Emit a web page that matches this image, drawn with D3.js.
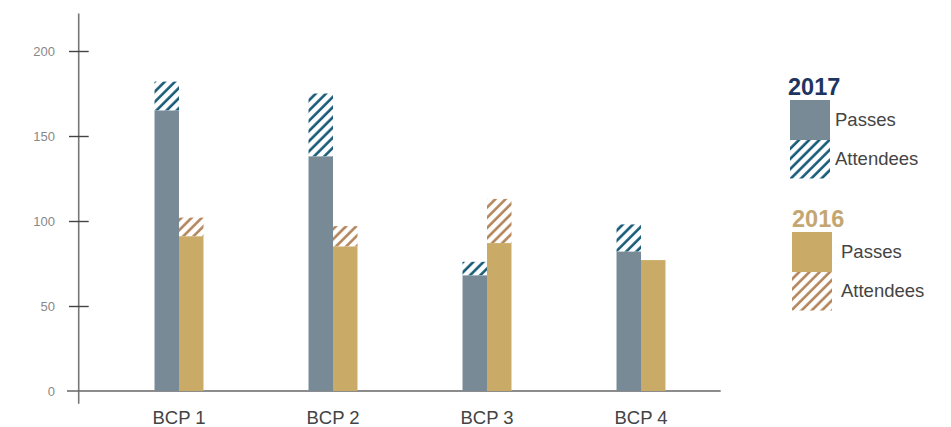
<!DOCTYPE html>
<html><head><meta charset="utf-8">
<script src="https://cdn.jsdelivr.net/npm/d3@7"></script>
<style>body{margin:0;background:#fff}svg{display:block}text{font-family:"Liberation Sans",Arial,sans-serif}</style>
</head><body><svg id="c" width="951" height="427"></svg>
<script>
const categories = ["BCP 1","BCP 2","BCP 3","BCP 4"];
const passes2017 = [165, 138, 68, 82];
const attendees2017 = [182, 175, 76, 98];
const passes2016 = [91, 85, 87, 77];
const attendees2016 = [102, 97, 113, 77];
const yTicks = [0, 50, 100, 150, 200];
const years = ["2017", "2016"];

const svg = d3.select("#c");
const defs = svg.append("defs");
function hatch(id, color){
  const s = 7.2;
  const p = defs.append("pattern").attr("id", id).attr("patternUnits","userSpaceOnUse")
    .attr("width", s).attr("height", s).attr("patternTransform","rotate(45)");
  p.append("rect").attr("width",s).attr("height",s).attr("fill","#fff");
  p.append("line").attr("x1",1.5).attr("y1",0).attr("x2",1.5).attr("y2",s)
    .attr("stroke", color).attr("stroke-width", 2.6);
}
hatch("h2017", "#165a78");
hatch("h2016", "#b3845a");

const colors = {"2017": {fill:"#778a96", hatch:"url(#h2017)", title:"#1e3560"},
                "2016": {fill:"#c9ab67", hatch:"url(#h2016)", title:"#c4a670"}};

const y = d3.scaleLinear().domain([0, 200]).range([391, 51]);
const x = d3.scaleBand().domain(categories).range([102, 718])
  .paddingInner(0.682).paddingOuter(0.341);
const x1 = d3.scaleBand().domain(years).range([0, x.bandwidth()]);

// axes
svg.append("line").attr("x1", 78.7).attr("x2", 78.7).attr("y1", y(222)).attr("y2", y(-7.5))
  .attr("stroke", "#777").attr("stroke-width", 1.6);
svg.append("line").attr("x1", 67).attr("x2", 720.7).attr("y1", y(0)).attr("y2", y(0))
  .attr("stroke", "#666").attr("stroke-width", 1.6);

const yAxis = svg.append("g").attr("transform", "translate(88.7,0)")
  .call(d3.axisLeft(y).tickValues(yTicks).tickSize(19.7).tickPadding(14));
yAxis.select(".domain").remove();
yAxis.selectAll(".tick line").attr("stroke", "#444").attr("stroke-width", 1.4);
yAxis.selectAll(".tick text").attr("fill", "#888").attr("font-size", "13px")
  .attr("font-family", '"Liberation Sans",Arial,sans-serif');
yAxis.selectAll(".tick").filter(d => d === 0).select("line").remove();

const xAxis = svg.append("g").attr("transform", `translate(0,${y(0)})`)
  .call(d3.axisBottom(x).tickSize(0).tickPadding(20));
xAxis.select(".domain").remove();
xAxis.selectAll(".tick text").attr("fill", "#444").attr("font-size", "18.5px")
  .attr("font-family", '"Liberation Sans",Arial,sans-serif');

// bars
const series = {"2017": {p: passes2017, a: attendees2017}, "2016": {p: passes2016, a: attendees2016}};
years.forEach(yr => {
  const g = svg.append("g");
  categories.forEach((c, i) => {
    const p = series[yr].p[i], a = series[yr].a[i];
    const bx = x(c) + x1(yr);
    if (a > p) {
      g.append("rect").attr("x", bx).attr("width", x1.bandwidth())
        .attr("y", y(a)).attr("height", y(p) - y(a)).attr("fill", colors[yr].hatch);
    }
    g.append("rect").attr("x", bx).attr("width", x1.bandwidth())
      .attr("y", y(p)).attr("height", y(0) - y(p)).attr("fill", colors[yr].fill);
  });
});

// legend
const legendPos = {"2017": {x: 790, ty: 95, tx: 788, lx: 835, sy: 100},
                   "2016": {x: 792, ty: 227, tx: 792, lx: 841, sy: 232}};
years.forEach(yr => {
  const L = legendPos[yr];
  svg.append("text").attr("x", L.tx).attr("y", L.ty).text(yr)
    .attr("font-size", "23.5px").attr("font-weight", "bold").attr("fill", colors[yr].title);
  svg.append("rect").attr("x", L.x).attr("y", L.sy).attr("width", 40).attr("height", 40).attr("fill", colors[yr].fill);
  svg.append("rect").attr("x", L.x).attr("y", L.sy + 40).attr("width", 40).attr("height", 38.5).attr("fill", colors[yr].hatch);
  svg.append("text").attr("x", L.lx).attr("y", L.sy + 20).attr("dy", "0.35em").text("Passes")
    .attr("font-size", "18.5px").attr("fill", "#444");
  svg.append("text").attr("x", L.lx).attr("y", L.sy + 59).attr("dy", "0.35em").text("Attendees")
    .attr("font-size", "18.5px").attr("fill", "#444");
});
</script></body></html>
